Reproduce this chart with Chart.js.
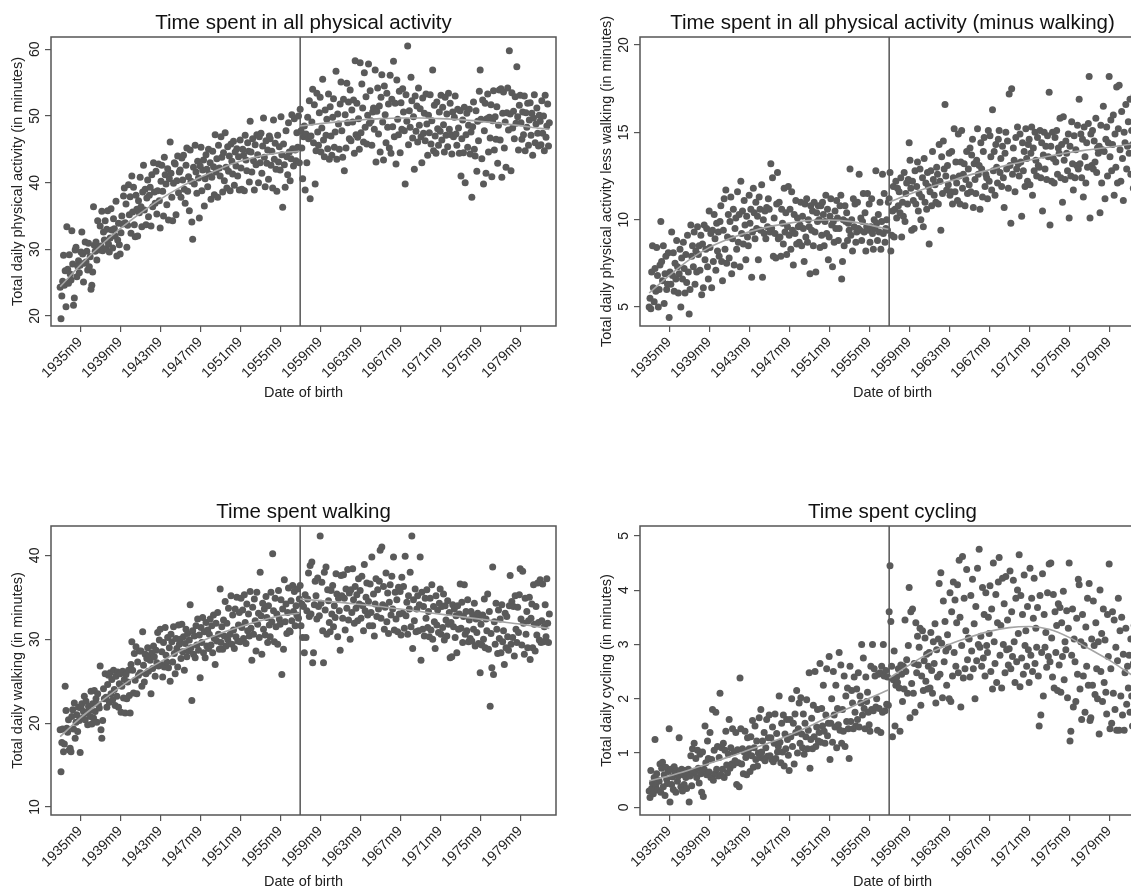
<!DOCTYPE html>
<html><head><meta charset="utf-8">
<script src="https://cdn.jsdelivr.net/npm/chart.js@4.4.1/dist/chart.umd.min.js"></script>
<style>
html,body{margin:0;padding:0;background:#fff;overflow:hidden;width:1131px;height:888px;position:relative;}
canvas{position:absolute;}
</style></head><body>
<canvas id="c1" width="590" height="444" style="left:0;top:0"></canvas>
<canvas id="c2" width="590" height="444" style="left:589px;top:0"></canvas>
<canvas id="c3" width="590" height="444" style="left:0;top:489px"></canvas>
<canvas id="c4" width="590" height="444" style="left:589px;top:489px"></canvas>
<script>
// ---------- DATA ----------
const startMonth = '1933m9';      // first monthly birth cohort
const cutoffMonth = '1957m9';     // discontinuity
const tickLabels = ['1935m9','1939m9','1943m9','1947m9','1951m9','1955m9','1959m9','1963m9','1967m9','1971m9','1975m9','1979m9'];
const fitLeftLabels = ['1933m9','1935m9','1937m9','1939m9','1941m9','1943m9','1945m9','1947m9','1949m9','1951m9','1953m9','1955m9','1957m8'];
const fitRightLabels = ['1957m9','1959m9','1961m9','1963m9','1965m9','1967m9','1969m9','1971m9','1973m9','1975m9','1977m9','1979m9','1981m9','1982m8'];

const titles = ['Time spent in all physical activity','Time spent in all physical activity (minus walking)','Time spent walking','Time spent cycling'];
const yTitles = ['Total daily physical activity (in minutes)','Total daily physical activity less walking (in minutes)','Total daily walking (in minutes)','Total daily cycling (in minutes)'];
const xTitle = 'Date of birth';
const yTicksPA = [20,30,40,50,60];
const yTicksMW = [5,10,15,20];
const yTicksWK = [10,20,30,40];
const yTicksCY = [0,1,2,3,4,5];

const allActivity = [
24.3,19.6,23.0,25.2,29.1,24.6,26.8,21.4,33.4,27.0,24.9,29.2,
26.3,25.4,32.8,27.8,21.6,22.7,29.9,30.3,25.9,27.5,28.3,26.5,
27.6,29.6,32.6,29.3,25.1,27.9,31.1,28.1,29.7,26.9,30.9,27.4,
28.9,24.0,24.6,26.6,36.4,30.6,29.7,31.1,28.4,34.3,30.2,29.9,
33.5,30.5,35.7,29.8,32.6,31.4,34.3,30.1,33.0,35.8,30.8,29.6,
31.7,36.1,32.9,30.2,34.6,33.1,32.0,37.2,29.0,31.4,33.9,30.7,
29.3,32.5,35.0,33.8,38.0,39.2,34.0,36.8,30.3,33.6,39.7,35.2,
37.9,32.4,41.0,35.6,39.3,33.7,31.9,38.1,36.0,32.0,37.3,35.5,
40.8,36.4,33.4,38.6,42.6,35.9,39.0,33.7,37.7,40.4,34.9,38.1,
39.3,33.5,41.2,36.4,43.0,38.6,36.9,41.7,35.3,38.8,42.8,37.3,
33.2,40.2,42.6,38.7,35.0,43.8,41.2,39.8,36.7,42.1,34.4,40.6,
46.1,41.4,37.8,34.3,39.9,43.0,42.8,35.2,40.3,44.0,38.5,41.6,
41.9,37.8,43.7,40.4,44.1,39.0,36.9,42.6,45.2,38.7,40.9,35.8,
44.9,40.2,34.1,31.5,42.3,39.8,45.6,41.6,38.4,43.2,40.7,34.7,
42.5,45.3,38.8,41.9,43.4,36.5,40.6,44.2,42.0,39.4,45.0,41.3,
43.0,37.5,40.8,44.7,42.4,38.2,47.2,41.6,43.6,37.8,45.6,42.2,
41.0,46.9,43.8,38.6,44.5,40.3,47.5,42.3,39.2,45.4,41.7,44.0,
38.8,45.8,43.2,41.3,46.2,39.6,44.6,42.5,45.1,41.0,43.9,38.9,
46.4,42.2,39.0,45.0,44.1,38.8,47.1,43.4,41.8,46.0,44.7,40.1,
49.2,44.6,41.6,46.6,43.3,38.9,45.7,42.7,47.2,44.2,40.0,46.9,
43.0,47.4,41.4,45.5,49.7,43.8,39.4,46.3,42.9,44.9,40.5,47.0,
46.6,42.6,44.7,39.2,49.4,43.5,45.9,42.0,38.7,47.1,43.1,45.4,
41.9,49.9,44.2,36.3,45.8,42.7,39.3,47.8,43.9,41.2,49.0,44.6,
40.3,43.6,50.2,45.1,42.5,49.6,44.9,43.3,47.5,45.3,50.0,43.0,
51.0,47.8,45.2,40.6,46.9,48.5,38.9,47.3,43.0,49.8,46.6,52.3,
37.6,47.0,49.1,54.0,46.0,51.7,39.8,44.8,53.4,47.6,45.6,50.5,
52.8,44.6,48.2,55.5,46.4,43.9,50.9,47.1,49.5,45.1,53.3,43.5,
51.4,47.0,44.1,49.8,52.6,45.3,47.6,56.7,43.5,50.3,48.8,45.0,
51.8,55.1,47.8,43.8,52.5,41.8,50.2,45.2,54.9,49.0,52.1,46.6,
53.9,46.3,50.9,49.1,52.4,44.4,58.3,47.2,51.9,46.8,49.6,45.0,
58.0,47.5,54.8,51.2,46.1,56.5,48.3,52.9,45.8,50.1,57.8,48.9,
53.8,49.3,45.6,50.6,51.2,48.0,56.9,43.1,50.7,54.2,47.3,51.5,
44.6,52.8,56.2,49.1,43.4,54.5,50.2,46.0,53.4,48.3,51.8,45.2,
56.1,44.4,52.5,48.4,58.2,46.9,51.9,42.8,55.4,49.5,47.2,53.7,
44.5,52.0,48.0,54.1,50.6,47.8,39.8,53.2,49.2,60.5,45.7,50.8,
48.3,55.8,52.3,46.7,49.9,42.0,53.0,47.7,51.5,46.1,54.2,48.6,
51.1,46.9,43.0,52.7,47.4,50.4,46.3,53.3,48.8,44.1,50.1,47.5,
53.2,45.8,49.3,56.9,44.8,51.6,47.0,44.4,52.1,48.1,45.6,50.6,
47.7,53.1,46.4,51.3,48.7,44.6,52.8,47.1,50.3,45.4,53.4,48.0,
51.9,47.2,44.3,50.6,46.9,49.8,53.0,47.3,45.6,51.0,48.2,44.4,
50.8,41.0,46.6,49.4,44.5,51.3,40.0,47.2,50.4,45.3,48.6,51.0,
44.3,47.6,37.8,48.4,52.1,45.0,44.0,50.8,41.7,49.2,46.3,53.7,
56.9,49.5,43.6,52.4,39.8,47.8,51.9,41.4,49.6,53.3,44.6,49.8,
46.7,51.7,40.9,49.3,53.8,44.9,49.9,46.5,51.4,42.9,48.6,53.9,
46.4,54.1,40.8,50.4,53.6,45.2,49.1,42.3,50.5,54.2,47.9,59.8,
50.3,41.8,53.5,48.2,50.7,46.6,52.9,48.9,57.4,49.9,44.9,51.6,
53.1,49.0,46.5,50.6,47.2,53.0,44.8,50.5,48.3,51.9,45.6,49.4,
52.0,47.1,50.4,44.1,49.7,53.2,46.0,48.8,51.2,47.4,45.5,50.1,
49.2,45.7,52.3,47.4,50.0,44.8,53.1,46.8,48.5,51.8,45.5,49.0
];

const minusWalking = [
5.0,5.5,4.9,7.0,8.5,6.1,5.3,7.2,5.9,8.4,6.8,5.0,
6.0,7.4,9.9,7.6,6.5,8.5,5.2,6.9,7.9,6.0,6.3,8.1,
4.4,7.0,6.3,9.3,6.8,8.1,5.9,7.5,6.6,8.8,7.3,5.8,
6.9,8.3,5.0,7.8,6.6,8.7,7.2,5.8,8.0,6.4,9.1,7.0,
4.6,6.0,9.7,7.9,8.5,7.3,9.3,6.3,8.2,7.0,9.6,8.0,
8.5,7.1,9.1,5.7,8.6,6.1,9.7,7.7,8.3,9.5,7.3,6.6,
10.5,8.4,9.2,6.1,9.4,7.6,10.3,8.9,7.1,9.8,8.2,9.3,
7.9,9.9,10.8,7.6,6.5,9.4,11.2,8.3,11.7,7.5,9.0,10.3,
7.8,9.9,11.3,6.9,8.9,10.6,7.4,9.5,10.1,8.3,11.6,8.7,
10.3,7.3,12.2,9.2,10.5,8.6,11.1,9.7,7.7,10.2,9.0,8.5,
11.4,9.8,10.6,6.7,9.3,11.8,10.4,8.9,11.0,9.5,10.2,7.7,
11.3,10.6,9.4,12.0,6.7,10.0,9.2,10.5,8.9,10.7,9.6,11.2,
10.6,9.3,13.2,9.5,12.4,7.9,10.1,9.2,7.8,10.9,12.7,8.9,
11.0,9.0,7.9,10.6,9.8,8.6,11.8,9.3,10.4,8.0,9.6,11.9,
9.1,10.6,8.3,11.6,9.4,7.4,10.3,9.2,11.1,8.6,10.1,9.6,
8.7,9.7,11.0,8.5,10.2,9.5,7.6,10.9,9.0,11.2,8.7,10.0,
9.6,6.9,10.8,9.4,10.5,8.5,11.0,9.3,7.0,10.4,9.9,10.8,
10.0,8.4,10.8,9.1,11.0,10.3,8.5,9.9,11.4,9.2,10.6,7.7,
9.0,10.2,11.2,9.7,7.3,9.9,8.7,10.5,9.5,11.1,10.1,8.8,
9.5,10.8,11.4,6.6,7.6,10.0,8.5,10.8,9.9,10.4,8.8,9.8,
9.4,12.9,9.1,10.0,8.2,11.2,9.6,10.9,8.7,9.3,11.0,9.5,
12.6,9.4,10.1,8.8,9.9,11.5,9.3,10.4,8.2,9.6,11.5,9.4,
10.9,8.7,9.6,11.2,9.2,8.3,10.0,9.5,12.8,9.8,8.8,10.3,
9.3,11.0,8.3,9.9,12.6,9.2,11.5,8.7,9.5,10.0,9.4,11.0,
11.2,12.7,8.2,9.1,10.5,11.9,9.0,10.6,12.2,10.1,11.8,10.8,
11.6,10.4,12.4,9.0,11.0,10.2,12.7,9.9,11.5,12.1,10.9,12.3,
14.4,13.4,11.8,9.4,12.2,11.1,9.5,12.8,10.9,11.9,13.3,10.5,
11.5,12.9,10.0,11.3,12.4,9.6,13.5,11.0,12.1,10.6,12.7,11.9,
8.6,11.6,12.8,10.8,13.9,12.3,11.4,12.0,11.0,13.0,12.6,10.9,
14.3,12.2,9.4,13.6,11.5,14.5,12.9,16.6,12.5,11.7,13.1,12.0,
13.8,11.4,11.6,13.9,10.9,12.4,15.2,11.6,13.3,12.1,11.1,14.9,
12.5,10.9,13.3,15.1,11.8,12.6,13.2,10.8,12.3,13.9,11.5,12.9,
12.0,14.1,11.6,13.7,14.6,10.7,13.2,12.3,11.5,13.4,15.2,12.6,
13.1,10.6,14.4,12.9,11.3,13.9,14.7,11.9,12.6,12.4,11.2,15.1,
12.2,14.8,13.6,11.7,16.3,12.8,13.9,11.4,14.3,13.0,12.1,14.6,
15.1,12.7,13.5,11.9,14.2,12.4,10.7,13.8,15.0,12.9,14.5,11.8,
17.2,13.1,9.8,17.5,12.6,14.1,13.4,11.6,14.7,12.9,15.3,13.2,
12.5,14.9,13.3,10.2,14.4,12.8,13.9,11.9,15.2,13.5,12.2,14.3,
14.6,12.0,13.8,15.3,11.4,14.1,12.8,15.0,13.4,12.5,14.7,13.1,
13.0,15.1,12.4,14.4,10.5,13.7,15.0,12.9,14.2,12.3,14.8,13.6,
17.3,9.7,14.2,12.2,15.0,13.5,12.1,14.7,13.3,15.1,12.6,14.1,
13.8,15.8,12.4,14.3,11.0,15.9,13.4,12.3,14.5,13.8,12.8,14.9,
10.1,14.2,12.5,15.6,13.2,11.7,14.8,12.4,14.0,13.1,15.4,12.9,
16.9,13.2,14.9,12.4,14.6,11.3,15.3,13.6,12.1,14.4,13.0,15.5,
18.2,10.1,14.9,13.1,15.1,12.9,14.5,13.3,15.8,12.7,14.1,13.8,
14.2,10.4,15.4,12.1,14.0,16.5,13.9,11.2,14.6,15.3,12.5,14.4,
18.2,13.6,15.7,12.8,14.3,16.0,11.4,14.9,13.0,17.6,12.1,15.2,
17.7,14.0,12.2,16.2,13.5,11.1,15.0,14.4,16.6,12.9,14.2,15.6,
13.8,16.9,12.6,15.1,14.3,11.8,17.1,13.9,15.5,12.4,14.8,16.3
];

const walking = [
19.2,14.2,17.7,19.3,16.6,17.5,24.4,21.5,19.4,18.9,20.4,16.8,
17.0,16.6,20.8,21.6,19.3,22.4,18.2,20.1,21.0,19.0,21.9,20.3,
16.5,21.8,22.3,20.6,21.4,23.2,20.4,22.6,21.2,19.8,22.0,21.5,
20.8,23.8,19.9,22.3,20.6,23.9,21.4,22.9,20.1,23.5,22.2,21.8,
26.8,19.2,18.2,20.3,24.1,22.9,25.9,23.1,21.9,24.6,25.7,22.5,
26.0,23.5,25.2,22.8,26.3,24.0,22.1,25.6,23.2,26.1,21.9,24.7,
25.9,21.3,24.4,26.2,23.0,25.2,21.2,25.8,22.9,24.9,26.3,23.3,
21.2,27.0,29.7,26.3,23.6,28.3,25.1,29.1,23.5,27.3,25.7,28.6,
26.0,28.6,24.4,30.9,26.9,24.9,28.2,25.9,27.7,29.0,26.2,28.0,
27.5,23.5,28.4,26.5,29.2,27.9,25.6,28.7,27.2,30.8,26.8,29.9,
31.2,27.0,28.5,25.5,29.6,26.7,31.4,28.1,27.3,30.2,26.6,29.0,
25.0,30.6,29.7,27.3,31.5,28.3,25.9,30.1,28.9,26.7,31.7,29.4,
30.0,27.7,31.8,28.5,30.3,26.3,29.5,31.2,27.9,30.7,28.6,29.9,
34.1,29.0,22.7,31.0,28.2,30.4,27.8,31.6,29.3,32.4,28.7,30.5,
25.4,31.4,29.6,32.6,28.4,30.9,27.8,32.0,29.2,31.1,28.9,30.6,
32.4,29.3,31.6,28.4,32.9,30.1,27.0,31.9,29.8,33.2,30.6,28.8,
36.0,29.6,31.5,28.8,32.3,30.4,34.5,29.2,31.9,30.0,33.7,29.5,
30.6,35.2,29.4,32.9,31.1,28.9,33.6,30.3,35.0,29.8,31.7,33.2,
29.7,34.9,31.4,33.5,30.1,35.3,32.0,29.5,34.2,31.0,33.0,30.4,
35.7,31.3,27.5,33.8,30.6,34.8,32.2,28.6,35.6,31.8,33.1,30.2,
38.0,32.8,28.2,34.3,31.2,33.6,30.5,35.1,32.6,29.6,34.0,31.7,
30.3,35.6,32.1,40.2,33.4,29.7,34.9,31.5,33.0,29.4,35.8,32.4,
31.8,34.7,25.8,33.6,28.8,37.1,32.1,34.2,30.7,33.2,36.1,31.0,
30.9,34.6,32.2,36.4,33.3,35.7,31.6,34.0,32.9,36.0,32.5,34.8,
36.4,31.6,34.2,30.2,33.9,28.4,35.3,30.2,33.4,34.8,37.9,32.7,
38.8,33.0,39.2,27.2,28.4,34.1,36.9,35.2,32.4,37.3,33.9,32.8,
42.3,34.3,36.8,31.0,27.2,38.0,33.5,38.6,30.6,35.9,34.6,32.0,
30.9,35.8,33.0,36.4,31.5,34.0,32.6,37.8,35.4,30.3,34.9,33.4,
28.7,37.6,35.2,32.5,37.7,34.9,31.1,36.0,33.7,38.3,32.3,35.5,
30.0,35.9,33.2,38.4,34.7,31.9,36.3,33.7,35.3,32.2,37.2,34.2,
35.8,32.5,37.5,34.0,31.0,38.9,33.4,35.0,36.7,32.9,34.5,31.6,
36.6,33.2,39.8,31.6,35.4,30.4,34.2,37.2,32.7,35.9,33.6,36.9,
40.6,32.5,41.0,34.1,36.3,31.2,33.8,37.9,32.1,35.5,30.7,34.4,
36.5,32.9,37.5,33.6,39.8,31.1,35.6,32.4,34.7,30.9,36.2,33.0,
35.7,30.5,37.4,33.1,36.3,31.3,39.9,32.8,34.4,30.6,35.2,33.6,
38.0,31.5,42.3,28.9,34.7,32.2,36.0,30.9,33.6,35.2,31.0,34.1,
39.8,27.5,35.6,31.2,33.9,30.4,34.9,32.5,35.9,31.4,33.3,30.3,
34.9,31.1,36.5,30.0,33.9,32.1,28.9,35.2,31.7,33.5,30.8,34.3,
36.0,30.6,33.9,31.4,35.4,29.9,34.0,32.3,30.4,34.6,31.8,33.2,
27.8,32.0,27.9,34.1,31.5,33.6,30.2,32.8,28.4,34.0,31.2,33.0,
36.6,31.3,34.4,29.6,32.7,36.5,30.6,33.3,31.0,34.7,29.7,32.3,
30.1,33.3,29.8,32.9,31.2,34.3,29.2,32.4,30.8,33.1,29.5,32.6,
26.0,31.8,29.3,32.9,30.0,34.8,29.0,32.4,31.0,35.4,28.8,33.3,
22.0,30.7,26.6,38.6,25.8,32.1,29.4,34.3,31.2,28.3,33.5,30.1,
32.4,28.4,34.1,29.7,31.0,27.0,33.1,29.0,32.7,30.3,28.7,34.0,
37.6,29.4,34.5,30.2,33.9,28.0,35.2,31.2,29.6,33.8,30.8,35.3,
38.4,32.4,29.3,38.1,31.9,28.2,34.9,30.6,33.3,29.0,32.2,35.0,
27.6,32.5,34.2,29.0,36.5,31.8,28.6,33.9,30.5,36.7,32.0,29.9,
37.1,29.6,32.2,36.6,29.7,31.5,34.1,30.3,37.2,31.9,29.6,33.0
];

const cycling = [
0.30,0.18,0.68,0.35,0.45,0.25,0.55,1.25,0.40,0.62,0.32,0.50,
0.48,0.80,0.28,0.72,0.83,0.38,0.60,0.22,0.74,0.52,0.44,0.66,
1.45,0.10,0.70,0.42,0.56,0.33,0.75,0.62,0.28,0.68,0.48,0.58,
1.28,0.65,0.38,0.70,0.30,0.60,0.42,0.68,0.55,0.35,0.62,0.70,
0.10,0.58,0.95,0.40,1.08,0.63,1.18,0.66,0.90,0.55,1.05,0.72,
0.45,0.98,0.62,0.28,1.02,0.20,0.70,1.50,0.82,0.60,1.22,0.90,
0.65,1.38,0.55,0.88,1.80,0.50,1.05,0.62,1.75,0.70,1.12,0.58,
0.92,2.10,0.60,1.10,0.70,1.18,0.55,1.05,1.40,0.78,0.64,0.98,
1.62,0.72,1.10,0.80,1.45,0.78,1.02,0.86,1.38,0.42,1.06,0.82,
0.38,2.38,1.45,0.80,1.08,0.62,1.02,1.40,0.92,0.60,1.28,0.98,
1.08,0.66,1.30,0.95,1.60,0.74,1.10,1.50,0.88,1.22,0.76,1.00,
1.65,0.92,1.80,1.02,1.22,0.90,1.38,0.86,1.10,1.62,0.94,1.28,
1.70,0.95,1.28,0.88,1.48,0.84,1.18,1.72,0.90,1.36,1.02,1.12,
2.05,1.20,0.82,1.55,1.02,1.70,0.76,1.35,1.08,1.62,1.25,0.96,
0.68,1.62,1.30,2.00,1.12,1.55,0.80,1.72,1.38,2.15,1.00,1.45,
1.92,1.18,2.02,1.35,1.10,1.72,0.98,1.55,1.30,1.98,1.08,1.42,
2.48,0.72,1.25,1.64,1.08,1.88,1.30,2.50,1.12,1.48,1.80,1.22,
1.38,2.65,1.20,1.82,1.50,2.25,1.40,1.18,1.70,2.55,1.32,1.55,
2.78,0.88,1.55,2.00,1.20,2.50,1.70,1.48,2.25,1.10,1.82,1.52,
2.85,1.42,2.62,1.18,1.80,1.40,2.42,1.12,2.05,1.58,2.20,1.45,
0.90,2.60,1.58,2.15,1.92,1.45,2.40,1.75,1.50,2.18,1.62,2.48,
1.48,2.05,1.92,3.00,1.70,2.75,1.82,1.45,2.40,1.95,2.12,1.75,
1.52,1.40,2.60,1.80,3.00,1.78,2.55,2.42,1.85,2.00,1.42,2.45,
1.82,2.48,1.38,2.60,1.75,3.00,2.42,1.78,2.52,1.90,2.40,1.88,
3.60,4.45,3.42,2.60,1.30,2.35,2.88,1.50,2.25,2.40,2.30,2.55,
2.20,1.40,2.62,2.45,1.95,2.60,2.18,3.45,2.50,2.72,2.10,2.98,
4.05,1.65,3.60,2.28,3.65,2.10,2.65,1.75,3.40,2.48,3.15,2.62,
2.95,3.30,1.88,2.42,3.25,2.15,2.70,3.12,2.32,2.82,2.18,2.60,
2.85,2.20,3.22,2.52,2.10,3.05,2.65,3.38,1.92,2.90,2.40,3.10,
4.12,2.45,4.32,3.02,2.02,3.80,2.68,3.42,2.88,2.25,3.18,2.95,
2.00,3.95,1.95,3.60,2.42,4.15,2.85,3.82,2.60,3.40,4.10,2.48,
4.55,3.50,1.85,2.98,4.62,2.38,3.85,2.55,3.25,4.38,2.72,3.12,
3.10,2.40,3.90,2.88,4.20,2.55,3.38,2.00,3.70,2.70,4.40,3.00,
4.75,2.95,3.15,2.60,4.05,2.75,3.55,2.42,3.95,2.98,2.85,3.50,
3.20,4.08,2.50,3.65,2.18,4.50,3.05,2.65,3.92,2.30,3.40,4.15,
4.60,2.80,3.35,2.20,4.22,3.00,3.75,2.48,4.25,2.90,3.45,2.62,
2.92,4.35,2.55,3.60,2.78,4.18,3.05,2.30,3.85,2.68,4.00,3.20,
4.65,2.22,3.90,2.75,3.55,2.45,4.28,2.98,3.25,2.60,3.70,2.90,
2.30,4.40,2.80,3.85,2.50,3.48,4.22,2.65,3.30,2.95,3.68,2.42,
1.50,3.90,1.70,2.85,4.30,2.05,3.55,2.95,3.22,2.58,3.95,2.78,
4.48,2.68,4.50,3.12,2.40,3.92,2.20,3.60,2.85,3.35,2.15,3.75,
2.62,3.68,2.12,3.40,2.78,3.98,2.35,3.05,2.90,3.62,2.02,3.30,
4.50,1.22,1.40,2.80,3.65,1.85,3.10,2.68,1.95,3.48,2.45,4.20,
4.10,2.18,3.05,1.62,3.55,2.42,2.98,1.75,3.32,2.60,3.85,2.25,
4.12,1.60,1.65,3.10,2.25,3.80,2.98,2.08,3.40,2.55,2.00,3.05,
1.35,4.00,2.50,3.20,1.95,3.65,2.30,3.08,2.12,1.72,3.55,2.78,
4.48,1.45,2.55,1.55,3.60,2.10,3.45,1.80,2.95,1.42,2.70,3.85,
1.42,3.25,2.05,3.50,1.70,2.82,1.42,2.48,3.30,1.90,2.60,2.20,
2.80,1.75,3.10,2.05,1.50,2.65,3.35,1.88,2.40,1.62,2.95,2.25
];

// quadratic fit lines read at the knots
const allFitLeft  = [24.4,27.6,30.5,33.1,35.4,37.5,39.3,40.8,42.1,43.2,44.0,44.5,44.7];
const allFitRight = [48.5,48.85,49.15,49.4,49.6,49.7,49.7,49.6,49.45,49.2,48.9,48.55,48.15,48.0];
const mwFitLeft   = [5.8,6.8,7.7,8.4,8.9,9.3,9.6,9.8,9.95,9.98,9.9,9.7,9.45];
const mwFitRight  = [11.0,11.45,11.85,12.2,12.55,12.85,13.15,13.4,13.65,13.85,14.0,14.15,14.3,14.35];
const wkFitLeft   = [18.4,20.6,22.5,24.3,25.9,27.3,28.6,29.7,30.7,31.5,32.2,32.8,33.1];
const wkFitRight  = [34.8,34.6,34.4,34.15,33.9,33.6,33.3,33.0,32.7,32.4,32.1,31.8,31.45,31.3];
const cyFitLeft   = [0.49,0.58,0.69,0.81,0.93,1.06,1.19,1.33,1.49,1.67,1.83,2.01,2.16];
const cyFitRight  = [2.38,2.62,2.84,3.0,3.13,3.24,3.31,3.33,3.28,3.13,2.92,2.71,2.47,2.36];

// ---------- DRAWING ----------
const FONT = "'Liberation Sans', Arial, Helvetica, sans-serif";
const toMonth = s => { const p = s.split('m'); return (+p[0] - 1960) * 12 + (+p[1] - 1); };
const m0 = toMonth(startMonth);
const tickMonths = tickLabels.map(toMonth);
const labelOf = {}; tickLabels.forEach(l => labelOf[toMonth(l)] = l);

function makePanel(id, idx, values, fitL, fitR, yTicks, yMin, yMax) {
  const pts = values.map((v, i) => ({x: m0 + i, y: v}));
  const fl = fitLeftLabels.map((l, i) => ({x: toMonth(l), y: fitL[i]}));
  const fr = fitRightLabels.map((l, i) => ({x: toMonth(l), y: fitR[i]}));
  const decor = {
    id: 'decor' + idx,
    beforeDatasetsDraw(chart) {
      const {ctx, chartArea: a, scales: {x}} = chart;
      const px = x.getPixelForValue(toMonth(cutoffMonth));
      ctx.save();
      ctx.strokeStyle = '#555'; ctx.lineWidth = 1.5;
      ctx.beginPath(); ctx.moveTo(px, a.top); ctx.lineTo(px, a.bottom); ctx.stroke();
      ctx.restore();
    },
    afterDraw(chart) {
      const {ctx, chartArea: a, scales: {y}} = chart;
      const cx = (a.left + a.right) / 2, cy = (a.top + a.bottom) / 2;
      ctx.save();
      ctx.strokeStyle = '#555'; ctx.lineWidth = 1.5;
      ctx.strokeRect(a.left, a.top, a.right - a.left, a.bottom - a.top);
      // title
      ctx.fillStyle = '#111'; ctx.font = '20.5px ' + FONT;
      ctx.textAlign = 'center'; ctx.textBaseline = 'middle';
      ctx.fillText(titles[idx], cx, 23);
      // x title
      ctx.fillStyle = '#222'; ctx.font = '14.5px ' + FONT;
      ctx.fillText(xTitle, cx, 393);
      // y title
      ctx.save(); ctx.translate(18, cy); ctx.rotate(-Math.PI / 2);
      ctx.textAlign = 'center'; ctx.textBaseline = 'middle';
      ctx.fillText(yTitles[idx], 0, 0); ctx.restore();
      // y tick labels (rotated)
      ctx.font = '14px ' + FONT;
      yTicks.forEach(v => {
        const py = y.getPixelForValue(v);
        ctx.save(); ctx.translate(a.left - 9, py); ctx.rotate(-Math.PI / 2);
        ctx.textAlign = 'center'; ctx.textBaseline = 'bottom';
        ctx.fillText(String(v), 0, 0); ctx.restore();
      });
      ctx.restore();
    }
  };
  new Chart(document.getElementById(id), {
    type: 'scatter',
    data: {datasets: [
      {data: fl, showLine: true, borderColor: '#a4a4a4', borderWidth: 1.6, pointRadius: 0, tension: 0.4, cubicInterpolationMode: 'monotone'},
      {data: fr, showLine: true, borderColor: '#a4a4a4', borderWidth: 1.6, pointRadius: 0, tension: 0.4, cubicInterpolationMode: 'monotone'},
      {data: pts, backgroundColor: '#5a5a5a', borderWidth: 0, pointRadius: 3.5, pointHoverRadius: 3.5}
    ]},
    options: {
      responsive: false, animation: false, events: [],
      layout: {padding: {left: 0, right: 34, top: 37, bottom: 0}},
      plugins: {legend: {display: false}, tooltip: {enabled: false}, title: {display: false}},
      scales: {
        x: {
          type: 'linear', min: toMonth('1932m10'), max: toMonth('1983m4'),
          afterBuildTicks: s => { s.ticks = tickMonths.map(v => ({value: v})); },
          afterFit: s => { s.height = 118; },
          ticks: {autoSkip: false, minRotation: 45, maxRotation: 45, padding: 2, color: '#222',
                  font: {family: FONT, size: 14}, callback: v => labelOf[v] || ''},
          grid: {drawOnChartArea: false, drawTicks: true, tickLength: 6, color: '#555', lineWidth: 1.2},
          border: {display: false}
        },
        y: {
          type: 'linear', min: yMin, max: yMax,
          afterBuildTicks: s => { s.ticks = yTicks.map(v => ({value: v})); },
          afterFit: s => { s.width = 51; },
          ticks: {display: false},
          grid: {drawOnChartArea: false, drawTicks: true, tickLength: 6, color: '#555', lineWidth: 1.2},
          border: {display: false}
        }
      }
    },
    plugins: [decor]
  });
}

makePanel('c1', 0, allActivity, allFitLeft, allFitRight, yTicksPA, 18.5, 61.85);
makePanel('c2', 1, minusWalking, mwFitLeft, mwFitRight, yTicksMW, 3.91, 20.46);
makePanel('c3', 2, walking, wkFitLeft, wkFitRight, yTicksWK, 9.05, 43.5);
makePanel('c4', 3, cycling, cyFitLeft, cyFitRight, yTicksCY, -0.14, 5.18);
</script>
</body></html>
